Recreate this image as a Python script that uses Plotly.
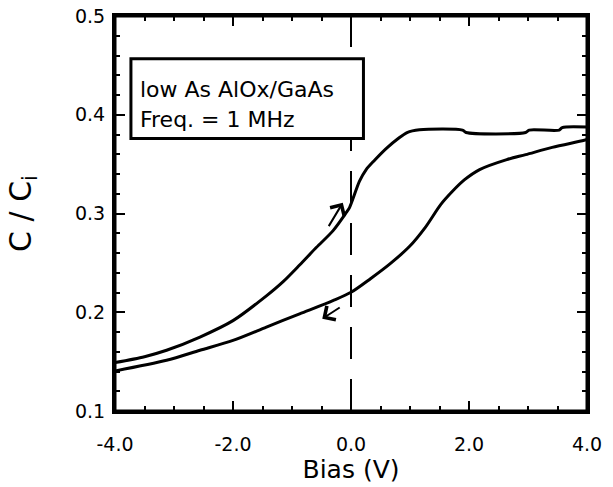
import plotly.graph_objects as go

# Forward sweep (upper branch, arrow pointing up)
fwd_bias = [-4.0, -3.5, -3.126, -2.56, -2.0, -1.434, -1.15, -0.871, -0.589, -0.307,
            -0.082, -0.025, 0.144, 0.257, 0.4, 0.6, 0.8, 0.95, 1.16, 1.89,
            1.95, 2.96, 3.02, 3.53, 3.58, 4.0]
fwd_c = [0.149, 0.155, 0.1615, 0.1749, 0.1915, 0.2166, 0.231, 0.2478, 0.2655, 0.2824,
         0.3008, 0.306, 0.3327, 0.3445, 0.354, 0.366, 0.376, 0.382, 0.3848, 0.3845,
         0.382, 0.382, 0.3845, 0.3845, 0.387, 0.3875]

# Reverse sweep (lower branch, arrow pointing down)
rev_bias = [-4.0, -3.126, -2.56, -2.0, -1.434, -0.871, -0.307, 0.0, 0.33, 0.66, 0.99,
            1.26, 1.52, 1.72, 1.92, 2.18, 2.64, 2.96, 3.41, 3.92, 4.0]
rev_c = [0.1406, 0.1514, 0.1615, 0.1715, 0.185, 0.1984, 0.2118, 0.2202, 0.234, 0.249,
         0.2665, 0.286, 0.309, 0.3225, 0.334, 0.3445, 0.3546, 0.3596, 0.367, 0.3737, 0.375]

x_tick_vals = [-4, -2, 0, 2, 4]
x_tick_labels = ["-4.0", "-2.0", "0.0", "2.0", "4.0"]
y_tick_vals = [0.1, 0.2, 0.3, 0.4, 0.5]
y_tick_labels = ["0.1", "0.2", "0.3", "0.4", "0.5"]

legend_lines = ["low As AlOx/GaAs", "Freq. = 1 MHz"]

# arrows: (tail_x, tail_y, head_x, head_y)
up_arrow = [-0.392, 0.2857, -0.139, 0.3109]
down_arrow = [-0.166, 0.2058, -0.487, 0.1934]

FONT = "DejaVu Sans"

fig = go.Figure()
for xs, ys in [(fwd_bias, fwd_c), (rev_bias, rev_c)]:
    fig.add_trace(go.Scatter(x=xs, y=ys, mode="lines",
                             line=dict(color="black", width=3, shape="spline", smoothing=0.8),
                             showlegend=False, hoverinfo="skip"))

# dashed vertical line at zero bias
fig.add_shape(type="line", xref="x", yref="y", x0=0, x1=0, y0=0.1, y1=0.5,
              line=dict(color="black", width=2, dash="32px,20px"), layer="above")
# text box
fig.add_shape(type="rect", xref="x", yref="y", x0=-3.73, x1=0.211, y0=0.376, y1=0.4567,
              line=dict(color="black", width=3), fillcolor="white", layer="above")
# plot frame
fig.add_shape(type="rect", xref="paper", yref="paper", x0=0, x1=1, y0=0, y1=1,
              line=dict(color="black", width=3), layer="above")

fig.add_annotation(x=-3.606, y=0.4255, xref="x", yref="y", text=legend_lines[0],
                   showarrow=False, xanchor="left", yanchor="middle",
                   font=dict(family=FONT, size=22, color="black"))
fig.add_annotation(x=-3.606, y=0.3952, xref="x", yref="y", text=legend_lines[1],
                   showarrow=False, xanchor="left", yanchor="middle",
                   font=dict(family=FONT, size=22, color="black"))

for a in (up_arrow, down_arrow):
    fig.add_annotation(x=a[2], y=a[3], ax=a[0], ay=a[1], xref="x", yref="y",
                       axref="x", ayref="y", text="", showarrow=True,
                       arrowhead=4, arrowsize=1.6, arrowwidth=2, arrowcolor="black")

axis_common = dict(showgrid=False, zeroline=False, showline=True, linecolor="black",
                   linewidth=3, mirror="ticks", ticks="inside", ticklen=10,
                   tickwidth=2, tickcolor="black", automargin=False,
                   tickfont=dict(family=FONT, size=19, color="black"))

fig.update_xaxes(range=[-4, 4], tickvals=x_tick_vals, ticktext=x_tick_labels,
                 minor=dict(dtick=0.5, ticklen=5, tickwidth=2, ticks="inside",
                            tickcolor="black"),
                 ticklabelstandoff=14,
                 title=dict(text="Bias (V)", font=dict(family=FONT, size=25, color="black"),
                            standoff=6),
                 **axis_common)
fig.update_yaxes(range=[0.1, 0.5], tickvals=y_tick_vals, ticktext=y_tick_labels,
                 minor=dict(dtick=0.02, ticklen=5, tickwidth=2, ticks="inside",
                            tickcolor="black"),
                 ticklabelstandoff=3,
                 title=dict(text="C / C<sub>i</sub>", font=dict(family=FONT, size=30, color="black"),
                            standoff=35),
                 **axis_common)

fig.update_layout(width=613, height=487, margin=dict(l=115, r=26, t=16, b=76),
                  plot_bgcolor="white", paper_bgcolor="white", showlegend=False)

fig.write_html("out.html", config={"displayModeBar": False},
               post_script="document.body.style.margin='0';document.body.style.overflow='hidden';")
